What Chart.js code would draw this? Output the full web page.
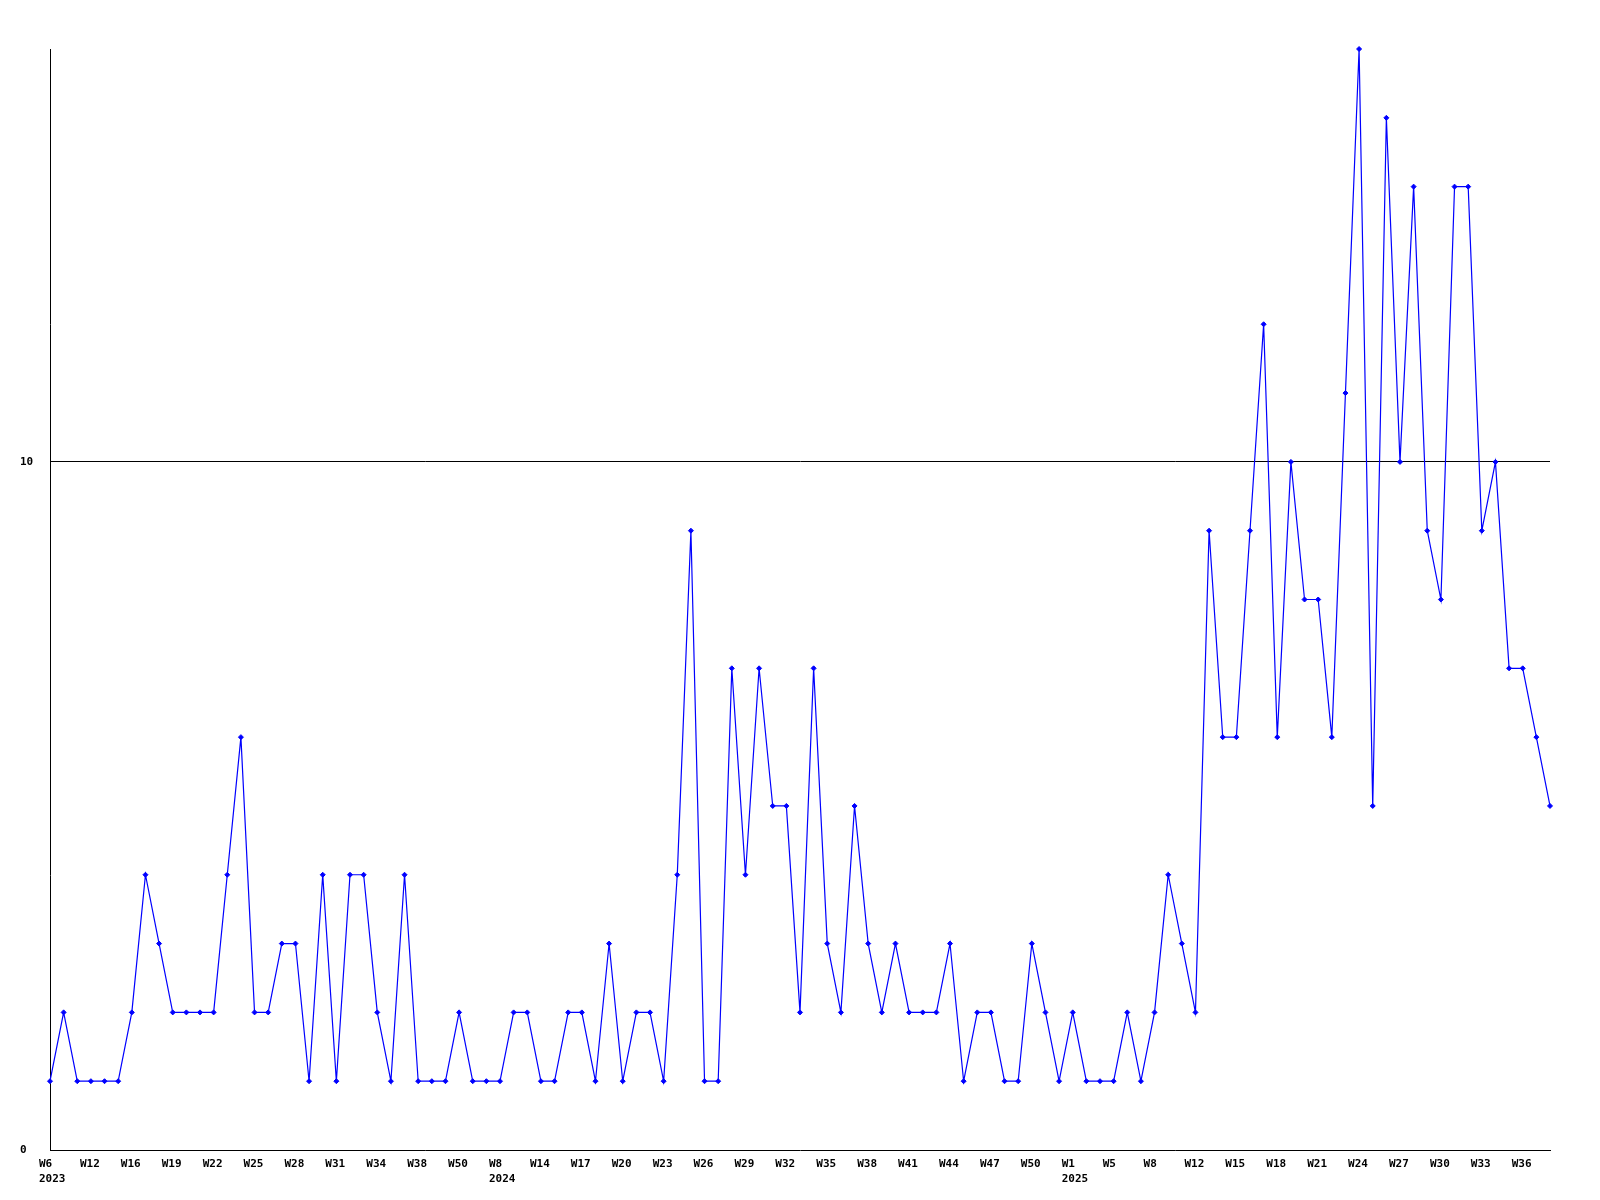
<!DOCTYPE html>
<html>
<head>
<meta charset="utf-8">
<script src="https://cdn.jsdelivr.net/npm/chart.js@4/dist/chart.umd.min.js"></script>
<style>
  html, body { margin: 0; padding: 0; background: #fff; }
  #wrap { width: 1600px; height: 1200px; }
</style>
</head>
<body>
<div id="wrap"><canvas id="myChart" width="1600" height="1200"></canvas></div>
<script>
// week of each point (only every third one is printed on the axis)
var weeks = [
    'W6', 'W8', 'W10', 'W12', 'W14', 'W15', 'W16', 'W17', 'W18', 'W19',
    'W20', 'W21', 'W22', 'W23', 'W24', 'W25', 'W26', 'W27', 'W28', 'W29',
    'W30', 'W31', 'W32', 'W33', 'W34', 'W35', 'W36', 'W38', 'W42', 'W46',
    'W50', 'W52', 'W4', 'W8', 'W10', 'W12', 'W14', 'W15', 'W16', 'W17',
    'W18', 'W19', 'W20', 'W21', 'W22', 'W23', 'W24', 'W25', 'W26', 'W27',
    'W28', 'W29', 'W30', 'W31', 'W32', 'W33', 'W34', 'W35', 'W36', 'W37',
    'W38', 'W39', 'W40', 'W41', 'W42', 'W43', 'W44', 'W45', 'W46', 'W47',
    'W48', 'W49', 'W50', 'W51', 'W52', 'W1', 'W3', 'W4', 'W5', 'W6',
    'W7', 'W8', 'W10', 'W11', 'W12', 'W13', 'W14', 'W15', 'W16', 'W17',
    'W18', 'W19', 'W20', 'W21', 'W22', 'W23', 'W24', 'W25', 'W26', 'W27',
    'W28', 'W29', 'W30', 'W31', 'W32', 'W33', 'W34', 'W35', 'W36', 'W37',
    'W38'
];
var years = [];
for (var i = 0; i < weeks.length; i++) {
    years.push(i < 32 ? 2023 : (i < 75 ? 2024 : 2025));
}

var counts = [
    1, 2, 1, 1, 1, 1, 2, 4, 3, 2,
    2, 2, 2, 4, 6, 2, 2, 3, 3, 1,
    4, 1, 4, 4, 2, 1, 4, 1, 1, 1,
    2, 1, 1, 1, 2, 2, 1, 1, 2, 2,
    1, 3, 1, 2, 2, 1, 4, 9, 1, 1,
    7, 4, 7, 5, 5, 2, 7, 3, 2, 5,
    3, 2, 3, 2, 2, 2, 3, 1, 2, 2,
    1, 1, 3, 2, 1, 2, 1, 1, 1, 2,
    1, 2, 4, 3, 2, 9, 6, 6, 9, 12,
    6, 10, 8, 8, 6, 11, 16, 5, 15, 10,
    14, 9, 8, 14, 14, 9, 10, 7, 7, 6,
    5
];

var yTicks = [0, 10];
var yMax = 16;

var ctx = document.getElementById('myChart').getContext('2d');
var myChart = new Chart(ctx, {
    type: 'line',
    data: {
        labels: weeks,
        datasets: [{
            data: counts,
            borderColor: '#0000ff',
            backgroundColor: '#0000ff',
            borderWidth: 1.2,
            tension: 0,
            pointStyle: 'rectRot',
            pointRadius: 2.5,
            pointBorderWidth: 1,
            clip: false,
            fill: false
        }]
    },
    options: {
        responsive: false,
        animation: false,
        layout: {
            padding: { top: 49, right: 50, left: 20, bottom: 0 }
        },
        plugins: {
            legend: { display: false },
            tooltip: { enabled: false }
        },
        scales: {
            x: {
                offset: false,
                grid: { display: false },
                border: { display: true, color: '#000', width: 1 },
                afterFit: function (scale) { scale.height = 50; },
                ticks: {
                    autoSkip: false,
                    maxRotation: 0,
                    minRotation: 0,
                    align: 'start',
                    labelOffset: -11,
                    padding: -2,
                    color: '#000',
                    font: { family: 'DejaVu Sans Mono', size: 11, weight: 'bold', lineHeight: 1.4 },
                    callback: function (value, index) {
                        if (index % 3 !== 0) return '';
                        var prev = index - 3;
                        if (prev < 0 || years[prev] !== years[index]) {
                            return [weeks[index], String(years[index])];
                        }
                        return weeks[index];
                    }
                }
            },
            y: {
                min: 0,
                max: yMax,
                afterFit: function (scale) { scale.width = 30; },
                afterBuildTicks: function (scale) {
                    scale.ticks = yTicks.map(function (v) { return { value: v }; });
                },
                border: { display: true, color: '#000', width: 1 },
                grid: {
                    drawTicks: false,
                    lineWidth: 1,
                    color: function (c) {
                        return c.tick && c.tick.value === 10 ? '#000' : 'rgba(0,0,0,0)';
                    }
                },
                ticks: {
                    crossAlign: 'far',
                    padding: 0,
                    color: '#000',
                    font: { family: 'DejaVu Sans Mono', size: 11, weight: 'bold' }
                }
            }
        }
    }
});
</script>
</body>
</html>
